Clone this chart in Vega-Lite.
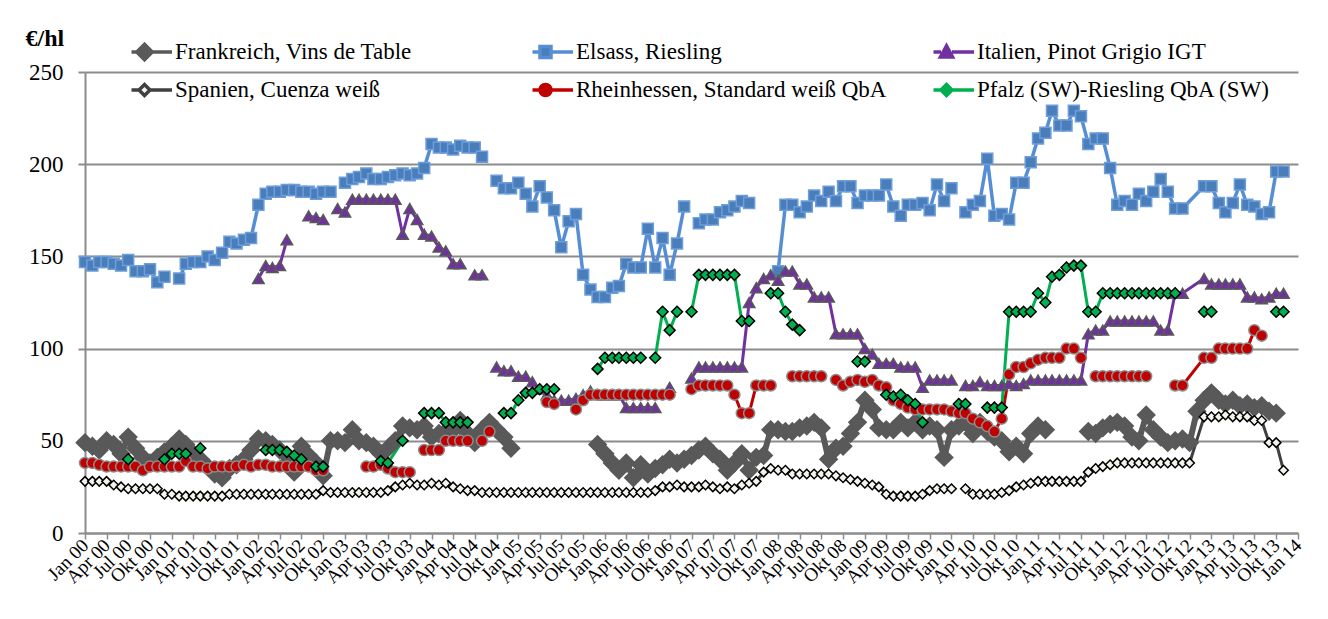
{
  "$schema": "https://vega.github.io/schema/vega-lite/v6.json",
  "width": 1213,
  "height": 461,
  "autosize": {"type": "none"},
  "padding": {"left": 85, "top": 72, "right": 30, "bottom": 86},
  "background": "white",
  "config": {"view": {"stroke": null}, "font": "Liberation Serif"},
  "data": {"values": [
{"d":"2000-01-01","frankreich":49,"elsass":147,"spanien":28,"rheinhessen":38},
{"d":"2000-02-01","frankreich":47,"elsass":145,"spanien":28,"rheinhessen":38},
{"d":"2000-03-01","frankreich":45,"elsass":147,"spanien":28,"rheinhessen":37},
{"d":"2000-04-01","frankreich":50,"elsass":147,"spanien":28,"rheinhessen":36},
{"d":"2000-05-01","frankreich":48,"elsass":146,"spanien":26,"rheinhessen":36},
{"d":"2000-06-01","frankreich":43,"elsass":145,"spanien":25,"rheinhessen":36},
{"d":"2000-07-01","frankreich":52,"elsass":148,"spanien":24,"rheinhessen":36,"riesling_pfalz":40},
{"d":"2000-08-01","frankreich":46,"elsass":142,"spanien":24,"rheinhessen":36,"riesling_pfalz":null},
{"d":"2000-09-01","frankreich":41,"elsass":142,"spanien":24,"rheinhessen":34},
{"d":"2000-10-01","frankreich":38,"elsass":143,"spanien":24,"rheinhessen":36},
{"d":"2000-11-01","frankreich":41,"elsass":136,"spanien":24,"rheinhessen":36},
{"d":"2000-12-01","frankreich":44,"elsass":139,"spanien":21,"rheinhessen":36,"riesling_pfalz":40},
{"d":"2001-01-01","frankreich":47,"elsass":null,"spanien":21,"rheinhessen":36,"riesling_pfalz":43},
{"d":"2001-02-01","frankreich":51,"elsass":138,"spanien":20,"rheinhessen":36,"riesling_pfalz":43},
{"d":"2001-03-01","frankreich":48,"elsass":146,"spanien":20,"rheinhessen":39,"riesling_pfalz":43},
{"d":"2001-04-01","frankreich":43,"elsass":147,"spanien":20,"rheinhessen":36},
{"d":"2001-05-01","frankreich":40,"elsass":147,"spanien":20,"rheinhessen":36,"riesling_pfalz":46},
{"d":"2001-06-01","frankreich":36,"elsass":150,"spanien":20,"rheinhessen":35,"riesling_pfalz":null},
{"d":"2001-07-01","frankreich":32,"elsass":148,"spanien":20,"rheinhessen":36},
{"d":"2001-08-01","frankreich":30,"elsass":152,"spanien":20,"rheinhessen":36},
{"d":"2001-09-01","frankreich":35,"elsass":158,"spanien":21,"rheinhessen":36},
{"d":"2001-10-01","frankreich":37,"elsass":157,"spanien":21,"rheinhessen":36},
{"d":"2001-11-01","frankreich":40,"elsass":159,"spanien":21,"rheinhessen":37},
{"d":"2001-12-01","frankreich":45,"elsass":160,"spanien":21,"rheinhessen":36},
{"d":"2002-01-01","frankreich":51,"elsass":178,"italien":138,"spanien":21,"rheinhessen":37},
{"d":"2002-02-01","frankreich":50,"elsass":184,"italien":145,"spanien":21,"rheinhessen":37,"riesling_pfalz":45},
{"d":"2002-03-01","frankreich":48,"elsass":185,"italien":144,"spanien":21,"rheinhessen":36,"riesling_pfalz":45},
{"d":"2002-04-01","frankreich":45,"elsass":185,"italien":145,"spanien":21,"rheinhessen":36,"riesling_pfalz":45},
{"d":"2002-05-01","frankreich":38,"elsass":186,"italien":159,"spanien":21,"rheinhessen":36,"riesling_pfalz":44},
{"d":"2002-06-01","frankreich":33,"elsass":186,"italien":null,"spanien":21,"rheinhessen":36,"riesling_pfalz":42},
{"d":"2002-07-01","frankreich":47,"elsass":185,"spanien":21,"rheinhessen":36,"riesling_pfalz":40},
{"d":"2002-08-01","frankreich":42,"elsass":185,"italien":172,"spanien":21,"rheinhessen":36,"riesling_pfalz":null},
{"d":"2002-09-01","frankreich":38,"elsass":184,"italien":171,"spanien":21,"rheinhessen":34,"riesling_pfalz":36},
{"d":"2002-10-01","frankreich":31,"elsass":185,"italien":170,"spanien":23,"rheinhessen":34,"riesling_pfalz":36},
{"d":"2002-11-01","frankreich":50,"elsass":185,"italien":null,"spanien":22,"rheinhessen":null,"riesling_pfalz":null},
{"d":"2002-12-01","frankreich":50,"elsass":null,"italien":176,"spanien":22},
{"d":"2003-01-01","frankreich":49,"elsass":190,"italien":174,"spanien":22},
{"d":"2003-02-01","frankreich":56,"elsass":192,"italien":181,"spanien":22},
{"d":"2003-03-01","frankreich":50,"elsass":193,"italien":181,"spanien":22},
{"d":"2003-04-01","frankreich":49,"elsass":195,"italien":181,"spanien":22,"rheinhessen":36},
{"d":"2003-05-01","frankreich":47,"elsass":192,"italien":181,"spanien":22,"rheinhessen":36},
{"d":"2003-06-01","frankreich":43,"elsass":192,"italien":181,"spanien":22,"rheinhessen":37,"riesling_pfalz":39},
{"d":"2003-07-01","frankreich":46,"elsass":193,"italien":181,"spanien":23,"rheinhessen":35,"riesling_pfalz":38},
{"d":"2003-08-01","frankreich":50,"elsass":194,"italien":181,"spanien":25,"rheinhessen":33},
{"d":"2003-09-01","frankreich":58,"elsass":195,"italien":162,"spanien":26,"rheinhessen":33,"riesling_pfalz":50},
{"d":"2003-10-01","frankreich":57,"elsass":194,"italien":176,"spanien":27,"rheinhessen":33,"riesling_pfalz":null},
{"d":"2003-11-01","frankreich":56,"elsass":195,"italien":170,"spanien":26,"rheinhessen":null},
{"d":"2003-12-01","frankreich":58,"elsass":198,"italien":162,"spanien":26,"rheinhessen":45,"riesling_pfalz":65},
{"d":"2004-01-01","frankreich":52,"elsass":211,"italien":161,"spanien":27,"rheinhessen":45,"riesling_pfalz":65},
{"d":"2004-02-01","frankreich":54,"elsass":209,"italien":155,"spanien":26,"rheinhessen":45,"riesling_pfalz":65},
{"d":"2004-03-01","frankreich":55,"elsass":209,"italien":153,"spanien":27,"rheinhessen":50,"riesling_pfalz":60},
{"d":"2004-04-01","frankreich":56,"elsass":208,"italien":146,"spanien":25,"rheinhessen":50,"riesling_pfalz":60},
{"d":"2004-05-01","frankreich":61,"elsass":210,"italien":146,"spanien":24,"rheinhessen":50,"riesling_pfalz":60},
{"d":"2004-06-01","frankreich":54,"elsass":209,"italien":null,"spanien":23,"rheinhessen":50,"riesling_pfalz":60},
{"d":"2004-07-01","frankreich":49,"elsass":209,"italien":140,"spanien":23,"rheinhessen":null,"riesling_pfalz":null},
{"d":"2004-08-01","frankreich":56,"elsass":204,"italien":140,"spanien":22,"rheinhessen":50},
{"d":"2004-09-01","frankreich":60,"elsass":null,"italien":null,"spanien":22,"rheinhessen":55},
{"d":"2004-10-01","frankreich":56,"elsass":191,"italien":90,"spanien":22,"rheinhessen":null},
{"d":"2004-11-01","frankreich":52,"elsass":187,"italien":88,"spanien":22,"riesling_pfalz":65},
{"d":"2004-12-01","frankreich":46,"elsass":187,"italien":88,"spanien":22,"riesling_pfalz":65},
{"d":"2005-01-01","frankreich":null,"elsass":190,"italien":85,"spanien":22,"riesling_pfalz":72},
{"d":"2005-02-01","elsass":184,"italien":85,"spanien":22,"riesling_pfalz":76},
{"d":"2005-03-01","elsass":177,"italien":82,"spanien":22,"riesling_pfalz":76},
{"d":"2005-04-01","elsass":188,"italien":78,"spanien":22,"riesling_pfalz":78},
{"d":"2005-05-01","elsass":182,"italien":75,"spanien":22,"rheinhessen":71,"riesling_pfalz":78},
{"d":"2005-06-01","elsass":175,"italien":72,"spanien":22,"rheinhessen":70,"riesling_pfalz":78},
{"d":"2005-07-01","elsass":155,"italien":72,"spanien":22,"rheinhessen":null,"riesling_pfalz":null},
{"d":"2005-08-01","elsass":169,"italien":72,"spanien":22},
{"d":"2005-09-01","elsass":173,"italien":73,"spanien":22,"rheinhessen":67},
{"d":"2005-10-01","elsass":140,"italien":75,"spanien":22,"rheinhessen":72},
{"d":"2005-11-01","elsass":132,"italien":77,"spanien":22,"rheinhessen":75},
{"d":"2005-12-01","frankreich":48,"elsass":128,"italien":75,"spanien":22,"rheinhessen":75,"riesling_pfalz":89},
{"d":"2006-01-01","frankreich":43,"elsass":128,"italien":75,"spanien":22,"rheinhessen":75,"riesling_pfalz":95},
{"d":"2006-02-01","frankreich":38,"elsass":133,"italien":75,"spanien":22,"rheinhessen":75,"riesling_pfalz":95},
{"d":"2006-03-01","frankreich":34,"elsass":134,"italien":75,"spanien":22,"rheinhessen":75,"riesling_pfalz":95},
{"d":"2006-04-01","frankreich":38,"elsass":146,"italien":68,"spanien":22,"rheinhessen":75,"riesling_pfalz":95},
{"d":"2006-05-01","frankreich":30,"elsass":144,"italien":68,"spanien":22,"rheinhessen":75,"riesling_pfalz":95},
{"d":"2006-06-01","frankreich":37,"elsass":144,"italien":68,"spanien":22,"rheinhessen":75,"riesling_pfalz":95},
{"d":"2006-07-01","frankreich":32,"elsass":165,"italien":68,"spanien":22,"rheinhessen":75,"riesling_pfalz":null},
{"d":"2006-08-01","frankreich":35,"elsass":144,"italien":68,"spanien":23,"rheinhessen":75,"riesling_pfalz":95},
{"d":"2006-09-01","frankreich":37,"elsass":160,"italien":null,"spanien":25,"rheinhessen":75,"riesling_pfalz":120},
{"d":"2006-10-01","frankreich":40,"elsass":140,"italien":79,"spanien":25,"rheinhessen":75,"riesling_pfalz":110},
{"d":"2006-11-01","frankreich":38,"elsass":157,"italien":null,"spanien":26,"rheinhessen":null,"riesling_pfalz":120},
{"d":"2006-12-01","frankreich":40,"elsass":177,"spanien":25,"riesling_pfalz":null},
{"d":"2007-01-01","frankreich":42,"elsass":null,"italien":84,"spanien":25,"rheinhessen":78,"riesling_pfalz":120},
{"d":"2007-02-01","frankreich":45,"elsass":168,"italien":90,"spanien":25,"rheinhessen":80,"riesling_pfalz":140},
{"d":"2007-03-01","frankreich":47,"elsass":170,"italien":90,"spanien":26,"rheinhessen":80,"riesling_pfalz":140},
{"d":"2007-04-01","frankreich":43,"elsass":170,"italien":90,"spanien":25,"rheinhessen":80,"riesling_pfalz":140},
{"d":"2007-05-01","frankreich":40,"elsass":174,"italien":90,"spanien":24,"rheinhessen":80,"riesling_pfalz":140},
{"d":"2007-06-01","frankreich":34,"elsass":175,"italien":90,"spanien":25,"rheinhessen":80,"riesling_pfalz":140},
{"d":"2007-07-01","frankreich":38,"elsass":177,"italien":90,"spanien":24,"rheinhessen":75,"riesling_pfalz":140},
{"d":"2007-08-01","frankreich":43,"elsass":180,"italien":90,"spanien":26,"rheinhessen":65,"riesling_pfalz":115},
{"d":"2007-09-01","frankreich":34,"elsass":179,"italien":125,"spanien":27,"rheinhessen":65,"riesling_pfalz":115},
{"d":"2007-10-01","frankreich":41,"elsass":null,"italien":133,"spanien":28,"rheinhessen":80,"riesling_pfalz":null},
{"d":"2007-11-01","frankreich":42,"italien":138,"spanien":33,"rheinhessen":80},
{"d":"2007-12-01","frankreich":56,"italien":140,"spanien":35,"rheinhessen":80,"riesling_pfalz":130},
{"d":"2008-01-01","frankreich":56,"elsass":142,"italien":137,"spanien":34,"rheinhessen":null,"riesling_pfalz":130},
{"d":"2008-02-01","frankreich":55,"elsass":178,"italien":142,"spanien":34,"riesling_pfalz":120},
{"d":"2008-03-01","frankreich":55,"elsass":178,"italien":142,"spanien":32,"rheinhessen":85,"riesling_pfalz":113},
{"d":"2008-04-01","frankreich":57,"elsass":174,"italien":135,"spanien":32,"rheinhessen":85,"riesling_pfalz":110},
{"d":"2008-05-01","frankreich":58,"elsass":177,"italien":135,"spanien":32,"rheinhessen":85,"riesling_pfalz":null},
{"d":"2008-06-01","frankreich":60,"elsass":183,"italien":128,"spanien":32,"rheinhessen":85},
{"d":"2008-07-01","frankreich":57,"elsass":180,"italien":128,"spanien":32,"rheinhessen":85},
{"d":"2008-08-01","frankreich":40,"elsass":185,"italien":128,"spanien":32,"rheinhessen":null},
{"d":"2008-09-01","frankreich":46,"elsass":180,"italien":108,"spanien":31,"rheinhessen":83},
{"d":"2008-10-01","frankreich":47,"elsass":188,"italien":108,"spanien":30,"rheinhessen":80},
{"d":"2008-11-01","frankreich":54,"elsass":188,"italien":108,"spanien":29,"rheinhessen":82},
{"d":"2008-12-01","frankreich":60,"elsass":179,"italien":108,"spanien":28,"rheinhessen":83,"riesling_pfalz":93},
{"d":"2009-01-01","frankreich":72,"elsass":183,"italien":100,"spanien":27,"rheinhessen":82,"riesling_pfalz":93},
{"d":"2009-02-01","frankreich":67,"elsass":183,"italien":97,"spanien":26,"rheinhessen":83,"riesling_pfalz":null},
{"d":"2009-03-01","frankreich":57,"elsass":183,"italien":92,"spanien":25,"rheinhessen":80},
{"d":"2009-04-01","frankreich":56,"elsass":189,"italien":92,"spanien":21,"rheinhessen":79,"riesling_pfalz":75},
{"d":"2009-05-01","frankreich":56,"elsass":177,"italien":92,"spanien":20,"rheinhessen":72,"riesling_pfalz":74},
{"d":"2009-06-01","frankreich":60,"elsass":172,"italien":90,"spanien":20,"rheinhessen":70,"riesling_pfalz":75},
{"d":"2009-07-01","frankreich":57,"elsass":178,"italien":90,"spanien":20,"rheinhessen":68,"riesling_pfalz":72},
{"d":"2009-08-01","frankreich":60,"elsass":178,"italien":90,"spanien":20,"rheinhessen":67,"riesling_pfalz":70},
{"d":"2009-09-01","frankreich":56,"elsass":179,"italien":79,"spanien":21,"rheinhessen":67,"riesling_pfalz":60},
{"d":"2009-10-01","frankreich":58,"elsass":175,"italien":83,"spanien":23,"rheinhessen":67,"riesling_pfalz":null},
{"d":"2009-11-01","frankreich":56,"elsass":189,"italien":83,"spanien":24,"rheinhessen":67},
{"d":"2009-12-01","frankreich":41,"elsass":180,"italien":83,"spanien":24,"rheinhessen":67},
{"d":"2010-01-01","frankreich":56,"elsass":187,"italien":83,"spanien":24,"rheinhessen":66},
{"d":"2010-02-01","frankreich":58,"elsass":null,"italien":null,"spanien":null,"rheinhessen":65,"riesling_pfalz":70},
{"d":"2010-03-01","frankreich":60,"elsass":174,"italien":80,"spanien":24,"rheinhessen":65,"riesling_pfalz":70},
{"d":"2010-04-01","frankreich":54,"elsass":178,"italien":80,"spanien":21,"rheinhessen":62,"riesling_pfalz":null},
{"d":"2010-05-01","frankreich":60,"elsass":180,"italien":82,"spanien":21,"rheinhessen":60},
{"d":"2010-06-01","frankreich":55,"elsass":203,"italien":80,"spanien":21,"rheinhessen":58,"riesling_pfalz":68},
{"d":"2010-07-01","frankreich":52,"elsass":172,"italien":80,"spanien":21,"rheinhessen":55,"riesling_pfalz":68},
{"d":"2010-08-01","frankreich":50,"elsass":173,"italien":80,"spanien":22,"rheinhessen":62,"riesling_pfalz":68},
{"d":"2010-09-01","frankreich":44,"elsass":170,"italien":81,"spanien":23,"rheinhessen":86,"riesling_pfalz":120},
{"d":"2010-10-01","frankreich":47,"elsass":190,"italien":80,"spanien":25,"rheinhessen":90,"riesling_pfalz":120},
{"d":"2010-11-01","frankreich":43,"elsass":190,"italien":81,"spanien":26,"rheinhessen":90,"riesling_pfalz":120},
{"d":"2010-12-01","frankreich":54,"elsass":201,"italien":83,"spanien":27,"rheinhessen":92,"riesling_pfalz":120},
{"d":"2011-01-01","frankreich":58,"elsass":214,"italien":83,"spanien":28,"rheinhessen":94,"riesling_pfalz":130},
{"d":"2011-02-01","frankreich":56,"elsass":217,"italien":83,"spanien":28,"rheinhessen":95,"riesling_pfalz":125},
{"d":"2011-03-01","frankreich":null,"elsass":229,"italien":83,"spanien":28,"rheinhessen":95,"riesling_pfalz":139},
{"d":"2011-04-01","elsass":221,"italien":83,"spanien":28,"rheinhessen":95,"riesling_pfalz":140},
{"d":"2011-05-01","elsass":221,"italien":83,"spanien":28,"rheinhessen":100,"riesling_pfalz":144},
{"d":"2011-06-01","elsass":229,"italien":83,"spanien":28,"rheinhessen":100,"riesling_pfalz":145},
{"d":"2011-07-01","elsass":226,"italien":83,"spanien":28,"rheinhessen":95,"riesling_pfalz":145},
{"d":"2011-08-01","frankreich":55,"elsass":211,"italien":108,"spanien":33,"rheinhessen":null,"riesling_pfalz":120},
{"d":"2011-09-01","frankreich":54,"elsass":214,"italien":110,"spanien":35,"rheinhessen":85,"riesling_pfalz":120},
{"d":"2011-10-01","frankreich":57,"elsass":214,"italien":110,"spanien":36,"rheinhessen":85,"riesling_pfalz":130},
{"d":"2011-11-01","frankreich":59,"elsass":198,"italien":115,"spanien":37,"rheinhessen":85,"riesling_pfalz":130},
{"d":"2011-12-01","frankreich":60,"elsass":178,"italien":115,"spanien":38,"rheinhessen":85,"riesling_pfalz":130},
{"d":"2012-01-01","frankreich":58,"elsass":180,"italien":115,"spanien":38,"rheinhessen":85,"riesling_pfalz":130},
{"d":"2012-02-01","frankreich":52,"elsass":178,"italien":115,"spanien":38,"rheinhessen":85,"riesling_pfalz":130},
{"d":"2012-03-01","frankreich":50,"elsass":184,"italien":115,"spanien":38,"rheinhessen":85,"riesling_pfalz":130},
{"d":"2012-04-01","frankreich":64,"elsass":180,"italien":115,"spanien":38,"rheinhessen":85,"riesling_pfalz":130},
{"d":"2012-05-01","frankreich":56,"elsass":185,"italien":115,"spanien":38,"rheinhessen":null,"riesling_pfalz":130},
{"d":"2012-06-01","frankreich":52,"elsass":192,"italien":110,"spanien":38,"riesling_pfalz":130},
{"d":"2012-07-01","frankreich":49,"elsass":185,"italien":110,"spanien":38,"riesling_pfalz":130},
{"d":"2012-08-01","frankreich":50,"elsass":176,"italien":130,"spanien":38,"rheinhessen":80,"riesling_pfalz":130},
{"d":"2012-09-01","frankreich":51,"elsass":176,"italien":130,"spanien":38,"rheinhessen":80,"riesling_pfalz":null},
{"d":"2012-10-01","frankreich":49,"spanien":38},
{"d":"2012-11-01","frankreich":66},
{"d":"2012-12-01","frankreich":72,"elsass":188,"italien":138,"spanien":63,"rheinhessen":95,"riesling_pfalz":120},
{"d":"2013-01-01","frankreich":76,"elsass":188,"italien":135,"spanien":63,"rheinhessen":95,"riesling_pfalz":120},
{"d":"2013-02-01","frankreich":72,"elsass":179,"italien":135,"spanien":63,"rheinhessen":100,"riesling_pfalz":null},
{"d":"2013-03-01","frankreich":70,"elsass":174,"italien":135,"spanien":64,"rheinhessen":100},
{"d":"2013-04-01","frankreich":72,"elsass":179,"italien":135,"spanien":63,"rheinhessen":100},
{"d":"2013-05-01","frankreich":69,"elsass":189,"italien":135,"spanien":63,"rheinhessen":100},
{"d":"2013-06-01","frankreich":70,"elsass":178,"italien":128,"spanien":63,"rheinhessen":100},
{"d":"2013-07-01","frankreich":68,"elsass":177,"italien":128,"spanien":61,"rheinhessen":110},
{"d":"2013-08-01","frankreich":69,"elsass":173,"italien":127,"spanien":61,"rheinhessen":107},
{"d":"2013-09-01","frankreich":66,"elsass":174,"italien":128,"spanien":49},
{"d":"2013-10-01","frankreich":65,"elsass":196,"italien":130,"spanien":49,"riesling_pfalz":120},
{"d":"2013-11-01","elsass":196,"italien":130,"spanien":34,"riesling_pfalz":120}
  ]},
  "transform": [
    {"fold": ["frankreich", "elsass", "italien", "spanien", "rheinhessen", "riesling_pfalz"], "as": ["series", "value"]},
    {"filter": "isDefined(datum.value)"}
  ],
  "encoding": {
    "x": {
      "field": "d", "type": "temporal",
      "scale": {"type": "utc", "domain": [{"year": 2000, "month": 1, "date": 1, "utc": true}, {"year": 2014, "month": 1, "date": 1, "utc": true}]},
      "axis": {
        "title": null,
        "tickCount": {"interval": "month", "step": 3},
        "labelExpr": "(['Jan','Feb','Mär','Apr','Mai','Jun','Jul','Aug','Sep','Okt','Nov','Dez'])[utcmonth(datum.value)] + ' ' + utcFormat(datum.value, '%y')",
        "labelAngle": -45, "labelAlign": "right", "labelBaseline": "middle",
        "labelFont": "Liberation Serif", "labelFontSize": 19, "labelColor": "black",
        "labelOverlap": false, "labelPadding": 3, "labelFlush": false, "labelBound": false,
        "grid": false, "domainColor": "#8c8c8c", "domainWidth": 2,
        "tickColor": "#8c8c8c", "tickSize": 6, "tickWidth": 1.5
      }
    },
    "y": {
      "field": "value", "type": "quantitative",
      "scale": {"domain": [0, 250], "nice": false},
      "axis": {
        "values": [0, 50, 100, 150, 200, 250],
        "grid": true, "gridColor": "#8c8c8c", "gridWidth": 2,
        "domainColor": "#8c8c8c", "domainWidth": 2,
        "tickColor": "#8c8c8c", "tickSize": 7, "tickWidth": 2,
        "labelFont": "Liberation Serif", "labelFontSize": 23, "labelColor": "black", "labelPadding": 15,
        "title": "€/hl", "titleAngle": 0, "titleFont": "Liberation Serif", "titleFontSize": 24,
        "titleFontWeight": "bold", "titleColor": "black", "titleAlign": "left", "titleBaseline": "alphabetic",
        "titleX": -60, "titleY": -27
      }
    }
  },
  "resolve": {"scale": {"shape": "independent", "fill": "independent", "stroke": "independent"}},
  "layer": [
    {
      "mark": {"type": "line", "invalid": "break-paths-show-domains", "strokeJoin": "round", "strokeCap": "round"},
      "encoding": {
        "color": {
          "field": "series", "type": "nominal", "legend": null,
          "scale": {"domain": ["frankreich", "elsass", "italien", "spanien", "rheinhessen", "riesling_pfalz"],
                    "range": ["#595959", "#558ed5", "#7030a0", "#404040", "#c00000", "#00b050"]}
        },
        "strokeWidth": {
          "field": "series", "type": "nominal", "legend": null,
          "scale": {"type": "ordinal", "domain": ["frankreich", "elsass", "italien", "spanien", "rheinhessen", "riesling_pfalz"],
                    "range": [6, 3.5, 3, 3, 3, 3]}
        }
      }
    },
    {
      "mark": {"type": "point", "filled": true, "opacity": 1, "strokeWidth": 1.5},
      "encoding": {
        "order": {"field": "series", "type": "nominal"},
        "shape": {
          "field": "series", "type": "nominal", "legend": null,
          "scale": {"domain": ["frankreich", "elsass", "italien", "spanien", "rheinhessen", "riesling_pfalz"],
                    "range": ["diamond", "square", "triangle-up", "diamond", "circle", "diamond"]}
        },
        "fill": {
          "field": "series", "type": "nominal", "legend": null,
          "scale": {"domain": ["frankreich", "elsass", "italien", "spanien", "rheinhessen", "riesling_pfalz"],
                    "range": ["#595959", "#4a7ebb", "#7030a0", "#f4f4ec", "#c00000", "#00b050"]}
        },
        "stroke": {
          "field": "series", "type": "nominal", "legend": null,
          "scale": {"domain": ["frankreich", "elsass", "italien", "spanien", "rheinhessen", "riesling_pfalz"],
                    "range": ["#595959", "#6e9ddb", "#595959", "#000000", "#8c8c8c", "#000000"]}
        },
        "size": {
          "field": "series", "type": "nominal", "legend": null,
          "scale": {"type": "ordinal", "domain": ["frankreich", "elsass", "italien", "spanien", "rheinhessen", "riesling_pfalz"],
                    "range": [300, 121, 130, 90, 121, 120]}
        }
      }
    },
    {
      "transform": [{"filter": "false"}],
      "mark": {"type": "point", "filled": true, "opacity": 1},
      "encoding": {
        "shape": {
          "field": "series", "type": "nominal",
          "scale": {"domain": ["frankreich", "elsass", "italien", "spanien", "rheinhessen", "riesling_pfalz"],
                    "range": [
                      "M-2.5,0H-0.7M0.7,0H2.5M0,-0.7L0.7,0L0,0.7L-0.7,0Z",
                      "M-2.5,0H-0.5M0.5,0H2.5M-0.5,-0.5H0.5V0.5H-0.5Z",
                      "M-2.5,0H-0.5M0.5,0H2.5M0,-0.55L0.55,0.45H-0.55Z",
                      "M-2.5,0H-0.5M0.5,0H2.5M0,-0.5L0.5,0L0,0.5L-0.5,0Z",
                      "M-2.5,0H-0.5M0.5,0H2.5M-0.5,0A0.5,0.5,0,1,0,0.5,0A0.5,0.5,0,1,0,-0.5,0Z",
                      "M-2.5,0H-0.5M0.5,0H2.5M0,-0.5L0.5,0L0,0.5L-0.5,0Z"
                    ]},
          "legend": {
            "title": null, "orient": "none", "legendX": 46.5, "legendY": -30, "direction": "horizontal",
            "columns": 3, "gridAlign": "all", "columnPadding": 47, "rowPadding": 15, "clipHeight": 20,
            "padding": 0, "symbolSize": 484, "symbolStrokeWidth": 3.5,
            "labelFont": "Liberation Serif", "labelFontSize": 23, "labelColor": "black", "labelOffset": 17.5, "labelLimit": 500,
            "labelExpr": "datum.label == 'frankreich' ? 'Frankreich, Vins de Table' : datum.label == 'elsass' ? 'Elsass, Riesling' : datum.label == 'italien' ? 'Italien, Pinot Grigio IGT' : datum.label == 'spanien' ? 'Spanien, Cuenza weiß' : datum.label == 'rheinhessen' ? 'Rheinhessen, Standard weiß QbA' : 'Pfalz (SW)-Riesling QbA (SW)'"
          }
        },
        "fill": {
          "field": "series", "type": "nominal",
          "scale": {"domain": ["frankreich", "elsass", "italien", "spanien", "rheinhessen", "riesling_pfalz"],
                    "range": ["#595959", "#4a7ebb", "#7030a0", "#f4f4ec", "#c00000", "#00b050"]},
          "legend": {
            "title": null, "orient": "none", "legendX": 46.5, "legendY": -30, "direction": "horizontal",
            "columns": 3, "gridAlign": "all", "columnPadding": 47, "rowPadding": 15, "clipHeight": 20,
            "padding": 0, "symbolSize": 484, "symbolStrokeWidth": 3.5,
            "labelFont": "Liberation Serif", "labelFontSize": 23, "labelColor": "black", "labelOffset": 17.5, "labelLimit": 500
          }
        },
        "stroke": {
          "field": "series", "type": "nominal",
          "scale": {"domain": ["frankreich", "elsass", "italien", "spanien", "rheinhessen", "riesling_pfalz"],
                    "range": ["#595959", "#558ed5", "#7030a0", "#404040", "#c00000", "#00b050"]},
          "legend": {
            "title": null, "orient": "none", "legendX": 46.5, "legendY": -30, "direction": "horizontal",
            "columns": 3, "gridAlign": "all", "columnPadding": 47, "rowPadding": 15, "clipHeight": 20,
            "padding": 0, "symbolSize": 484, "symbolStrokeWidth": 3.5,
            "labelFont": "Liberation Serif", "labelFontSize": 23, "labelColor": "black", "labelOffset": 17.5, "labelLimit": 500
          }
        }
      }
    }
  ]
}
